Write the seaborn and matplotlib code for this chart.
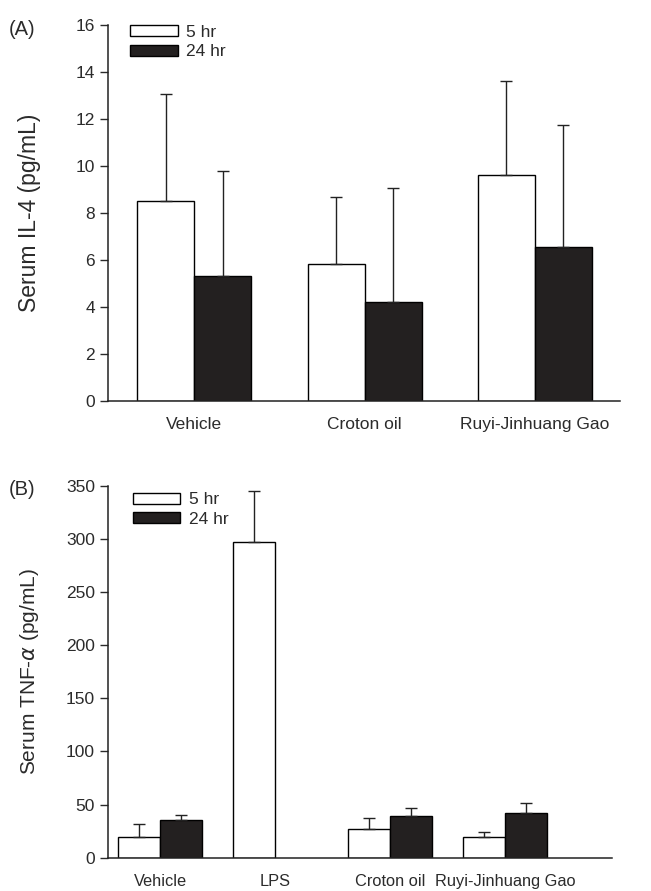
import numpy as np
import pandas as pd
import seaborn as sns
import matplotlib.pyplot as plt

# Panel A: serum IL-4
groups_a = ["Vehicle", "Croton oil", "Ruyi-Jinhuang Gao"]
il4_5hr = [8.50, 5.82, 9.61]
il4_5hr_err = [4.55, 2.84, 4.02]
il4_24hr = [5.30, 4.20, 6.53]
il4_24hr_err = [4.48, 4.86, 5.21]

# Panel B: serum TNF-alpha (no 24 hr value for LPS)
groups_b = ["Vehicle", "LPS", "Croton oil", "Ruyi-Jinhuang Gao"]
tnf_5hr = [19.2, 296.7, 26.7, 19.8]
tnf_5hr_err = [12.2, 48.3, 10.9, 4.7]
tnf_24hr = [35.2, np.nan, 39.2, 41.8]
tnf_24hr_err = [4.7, np.nan, 7.3, 9.9]

hue_order = ["5 hr", "24 hr"]
palette = {"5 hr": "white", "24 hr": "#231f20"}
text_color = "#2b2b2b"


def make_df(groups, v5, e5, v24, e24):
    df = pd.DataFrame({
        "group": groups * 2,
        "time": ["5 hr"] * len(groups) + ["24 hr"] * len(groups),
        "value": list(v5) + list(v24),
        "err": list(e5) + list(e24),
    })
    return df.dropna()


def draw_panel(ax, df, groups, width, xfont):
    sns.barplot(data=df, x="group", y="value", hue="time", order=groups,
                hue_order=hue_order, palette=palette, edgecolor="black",
                linewidth=1.0, width=width, errorbar=None, ax=ax)
    # one-sided (upper) error bars on top of each bar
    for container, level in zip(ax.containers, hue_order):
        sub = df[df["time"] == level]
        xs, ys, es = [], [], []
        for bar in container:
            h = bar.get_height()
            row = sub[np.isclose(sub["value"], h)]
            if len(row) == 0:
                continue
            xs.append(bar.get_x() + bar.get_width() / 2)
            ys.append(h)
            es.append(row["err"].iloc[0])
        ax.errorbar(xs, ys, yerr=[np.zeros(len(es)), es], fmt="none",
                    ecolor="#222222", elinewidth=1.0, capsize=4.2,
                    capthick=1.0, zorder=3)
    sns.despine(ax=ax)
    ax.set_xlabel("")
    ax.tick_params(axis="x", length=0, labelsize=xfont, pad=12,
                   colors=text_color)
    ax.tick_params(axis="y", length=6, width=1.0, labelsize=12.5,
                   colors=text_color, direction="out")
    for s in ["left", "bottom"]:
        ax.spines[s].set_linewidth(1.1)
        ax.spines[s].set_color("#222222")


sns.set_style("ticks")
plt.rcParams["font.family"] = ["Liberation Sans", "DejaVu Sans"]

fig = plt.figure(figsize=(6.51, 8.91), dpi=100)
ax1 = fig.add_axes([0.166, 0.5503, 0.786, 0.4217])
ax2 = fig.add_axes([0.166, 0.0374, 0.774, 0.4175])

df_a = make_df(groups_a, il4_5hr, il4_5hr_err, il4_24hr, il4_24hr_err)
draw_panel(ax1, df_a, groups_a, 0.669, 12.5)
ax1.set_ylim(0, 16)
ax1.set_yticks(range(0, 17, 2))
ax1.set_xlim(-0.506, 2.498)
ax1.set_ylabel("Serum IL-4 (pg/mL)", fontsize=16.5, color=text_color)
ax1.yaxis.set_label_coords(-0.131, 0.5)

df_b = make_df(groups_b, tnf_5hr, tnf_5hr_err, tnf_24hr, tnf_24hr_err)
draw_panel(ax2, df_b, groups_b, 0.73, 11.8)
ax2.set_ylim(0, 350)
ax2.set_yticks(range(0, 351, 50))
ax2.set_xlim(-0.452, 3.93)
ax2.set_ylabel(r"Serum TNF-$\alpha$ (pg/mL)", fontsize=15,
               color=text_color)
ax2.yaxis.set_label_coords(-0.133, 0.5)

for ax, anchor in [(ax1, (0.043, 1.0)), (ax2, (0.049, 0.982))]:
    sns.move_legend(ax, "upper left", bbox_to_anchor=anchor, frameon=False,
                    title=None, fontsize=12.5, handlelength=2.75,
                    handleheight=0.62, handletextpad=0.5, labelspacing=0.25,
                    borderpad=0, borderaxespad=0, labelcolor=text_color)

fig.text(9 / 651, 1 - 20 / 891, "(A)", fontsize=14.5, color=text_color,
         va="top", ha="left")
fig.text(9 / 651, 1 - 480 / 891, "(B)", fontsize=14.5, color=text_color,
         va="top", ha="left")

fig.savefig("out.png", dpi=100)
